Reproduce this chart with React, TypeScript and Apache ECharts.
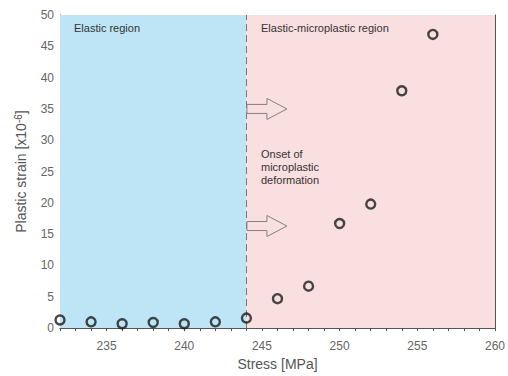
import React, { useEffect, useRef } from "react";
import * as echarts from "echarts";

const stress = [232, 234, 236, 238, 240, 242, 244, 246, 248, 250, 252, 254, 256];
const strain = [1.3, 1.0, 0.7, 0.9, 0.7, 1.0, 1.6, 4.7, 6.7, 16.7, 19.8, 37.9, 46.9];
const xTickLabels = [235, 240, 245, 250, 255, 260];
const boundary = 244;
const arrowLevels = [35, 16.3];

const FONT = "Liberation Sans, Arial, sans-serif";
const BLUE = "#bee5f5";
const PINK = "#f9dfdf";
const AXIS = "#555";

export default function App() {
  const ref = useRef<HTMLDivElement>(null);
  useEffect(() => {
    if (!ref.current) return;
    const chart = echarts.init(ref.current, undefined, { renderer: "svg" });
    const axisLine = { show: true, lineStyle: { color: AXIS, width: 1 } };
    const option: any = {
      animation: false,
      backgroundColor: "#fff",
      grid: { left: 60, right: 10, top: 15, bottom: 43 },
      xAxis: [
        {
          type: "value",
          position: "bottom",
          min: 232,
          max: 260,
          interval: 1,
          axisLine,
          axisTick: { show: true, inside: true, length: 3, lineStyle: { color: AXIS } },
          axisLabel: {
            color: "#666",
            fontSize: 12,
            fontFamily: FONT,
            margin: 12,
            formatter: (v: number) => (xTickLabels.includes(v) ? String(v) : ""),
          },
          splitLine: { show: false },
          name: "Stress [MPa]",
          nameLocation: "middle",
          nameGap: 24,
          nameTextStyle: { color: "#555", fontSize: 14, fontFamily: FONT },
        },
        {
          type: "value",
          position: "top",
          min: 232,
          max: 260,
          interval: 1,
          axisLine,
          axisTick: { show: true, inside: true, length: 3, lineStyle: { color: AXIS } },
          axisLabel: { show: false },
          splitLine: { show: false },
        },
      ],
      yAxis: [
        {
          type: "value",
          position: "left",
          min: 0,
          max: 50,
          interval: 5,
          axisLine,
          axisTick: { show: true, inside: true, length: 4, lineStyle: { color: AXIS } },
          minorTick: { show: true, splitNumber: 5, length: 2, lineStyle: { color: AXIS } },
          axisLabel: { color: "#666", fontSize: 12, fontFamily: FONT, margin: 6 },
          splitLine: { show: false },
          name: "Plastic strain [x10{sup|-6}]",
          nameLocation: "middle",
          nameGap: 22,
          nameRotate: 90,
          nameTextStyle: {
            color: "#555",
            fontSize: 14,
            fontFamily: FONT,
            rich: {
              sup: { fontSize: 10, color: "#555", fontFamily: FONT, verticalAlign: "top", lineHeight: 10, padding: [0, 0, 6, 0] },
            },
          },
        },
        {
          type: "value",
          position: "right",
          min: 0,
          max: 50,
          interval: 5,
          axisLine,
          axisTick: { show: true, inside: true, length: 3, lineStyle: { color: AXIS } },
          minorTick: { show: true, splitNumber: 5, length: 2, lineStyle: { color: AXIS } },
          axisLabel: { show: false },
          splitLine: { show: false },
        },
      ],
      series: [
        {
          type: "scatter",
          xAxisIndex: 0,
          yAxisIndex: 0,
          data: stress.map((s, i) => [s, strain[i]]),
          symbol: "circle",
          symbolSize: 9,
          itemStyle: { color: "rgba(0,0,0,0)", borderColor: "#1a1a1a", borderWidth: 2.4 },
          z: 5,
          markArea: {
            silent: true,
            data: [
              [{ xAxis: 232, itemStyle: { color: BLUE } }, { xAxis: boundary }],
              [{ xAxis: boundary, itemStyle: { color: PINK } }, { xAxis: 260 }],
            ],
          },
          markLine: {
            silent: true,
            symbol: "none",
            label: { show: false },
            lineStyle: { color: "#777", type: [7, 4], width: 1 },
            data: [{ xAxis: boundary }],
          },
        },
      ],
    };
    chart.setOption(option);

    const graphics: any[] = [];
    arrowLevels.forEach((lv) => {
      const p0 = chart.convertToPixel({ xAxisIndex: 0, yAxisIndex: 0 }, [boundary, lv]) as number[];
      const x0 = p0[0] + 0.5;
      const yc = p0[1];
      const xb = x0 + 20;
      const xt = x0 + 40;
      const sh = 4.5;
      const hh = 10.5;
      graphics.push({
        type: "polygon",
        shape: {
          points: [
            [x0, yc - sh],
            [xb, yc - sh],
            [xb, yc - hh],
            [xt, yc],
            [xb, yc + hh],
            [xb, yc + sh],
            [x0, yc + sh],
          ],
        },
        style: { fill: PINK, stroke: "#8a7f80", lineWidth: 1 },
        z: 10,
      });
    });
    const textStyle = { fill: "#333", fontSize: 11, fontFamily: FONT };
    graphics.push(
      { type: "text", left: 74, top: 22, style: { ...textStyle, text: "Elastic region" }, z: 10 },
      { type: "text", left: 261, top: 22, style: { ...textStyle, text: "Elastic-microplastic region" }, z: 10 },
      {
        type: "text",
        left: 261,
        top: 147,
        style: { ...textStyle, text: "Onset of\nmicroplastic\ndeformation", lineHeight: 13 },
        z: 10,
      }
    );
    chart.setOption({ graphic: graphics });

    return () => chart.dispose();
  }, []);
  return <div ref={ref} style={{ position: "absolute", left: 0, top: 0, width: 508, height: 376 }} />;
}
